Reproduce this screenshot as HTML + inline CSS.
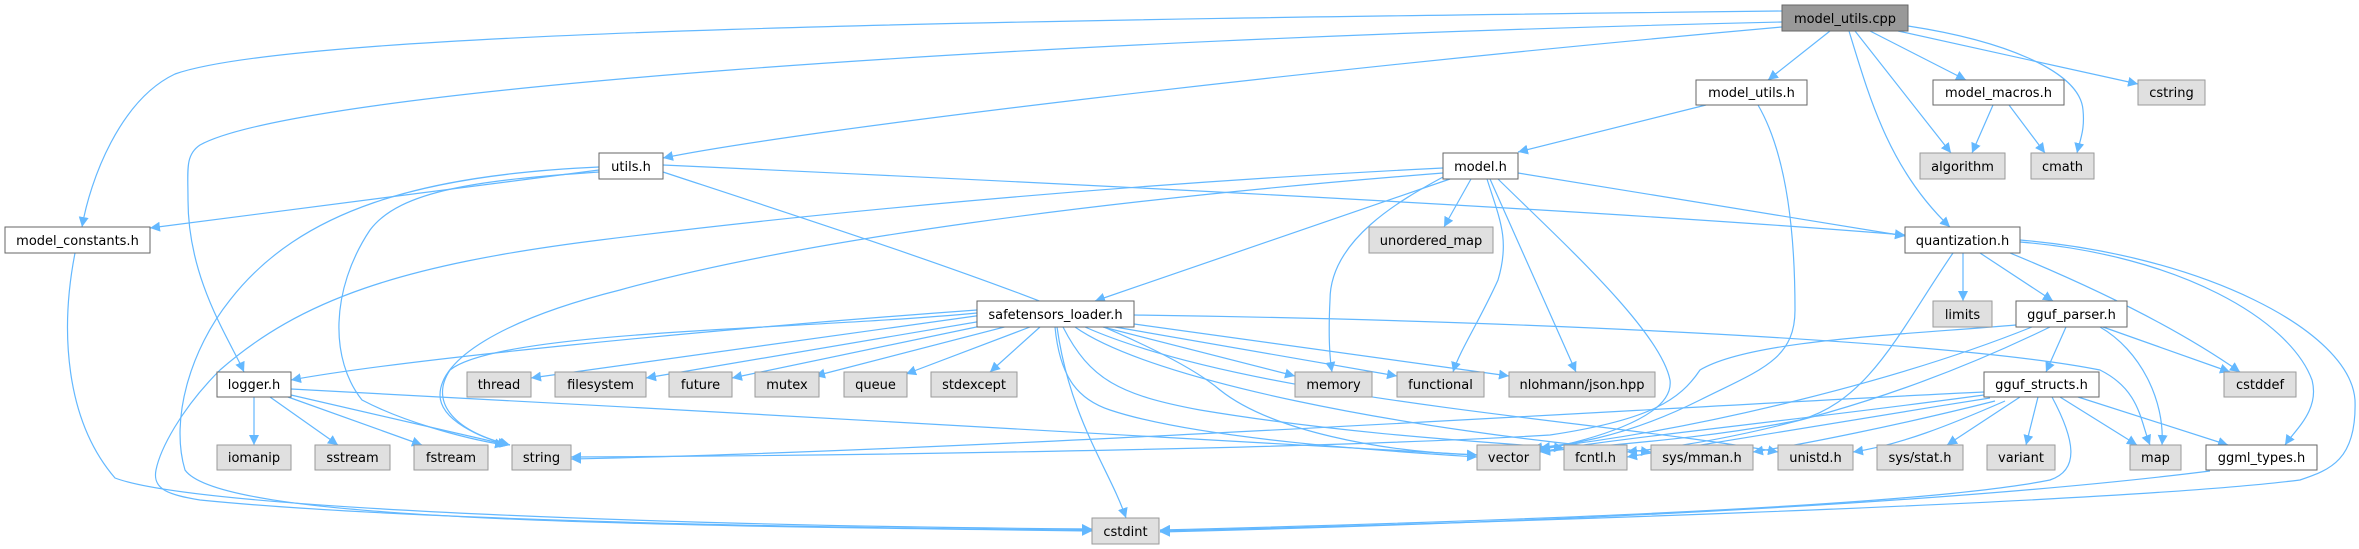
<!DOCTYPE html>
<html><head><meta charset="utf-8"><style>
html,body{margin:0;padding:0;background:#fff;}
svg{display:block;}
text{font-family:"DejaVu Sans","Liberation Sans",sans-serif;font-size:13px;fill:#000;}
.e{fill:none;stroke:#63b8ff;stroke-width:1.2;marker-end:url(#a);}
.g{fill:#e0e0e0;stroke:#999;}
.w{fill:#fff;stroke:#666;}
</style></head><body>
<svg width="2359" height="549" viewBox="0 0 2359 549" xmlns="http://www.w3.org/2000/svg">
<defs><marker id="a" viewBox="0 0 10 10" refX="10" refY="5" markerWidth="10" markerHeight="10" markerUnits="userSpaceOnUse" orient="auto"><path d="M0,0 L10,5 L0,10 z" fill="#63b8ff"/></marker></defs>
<g>
<path class="e" d="M1782,11 C1000,20 300,30 175,74 C120,100 90,180 82,227"/>
<path class="e" d="M1782,22 C1000,40 300,90 200,145 C185,155 188,170 188,200 C188,280 230,340 244,372"/>
<path class="e" d="M1782,27 C1300,70 800,130 663,158"/>
<path class="e" d="M1830,31 L1768,80"/>
<path class="e" d="M1849,31 C1870,100 1890,170 1950,227"/>
<path class="e" d="M1855,31 L1951,153"/>
<path class="e" d="M1870,31 L1966,80"/>
<path class="e" d="M1898,31 L2138,84"/>
<path class="e" d="M1908,26 C2000,40 2080,70 2083,110 C2085,130 2080,140 2077,153"/>
<path class="e" d="M1706,105 L1518,152"/>
<path class="e" d="M1758,105 C1790,160 1795,250 1795,310 C1795,360 1760,370 1700,400 C1620,440 1560,446 1532,448"/>
<path class="e" d="M1993,105 L1972,153"/>
<path class="e" d="M2009,105 L2045,153"/>
<path class="e" d="M599,170 L150,228"/>
<path class="e" d="M663,165 C1100,185 1600,210 1905,235"/>
<path class="e" d="M599,172 C480,180 400,190 370,230 C330,290 330,360 362,400 C400,420 460,438 505,445"/>
<path class="e" d="M599,167 C420,175 300,210 230,300 C190,350 170,420 185,470 C220,520 600,525 1092,531"/>
<path class="e" d="M663,172 C900,250 1150,330 1220,390 C1270,430 1380,452 1477,455"/>
<path class="e" d="M1443,168 C1100,185 800,215 600,240 C400,265 300,300 220,370 C180,410 160,450 156,470 C152,490 170,495 200,500 C400,520 800,528 1092,530"/>
<path class="e" d="M1443,173 C1100,200 800,240 620,290 C500,320 440,360 440,395 C440,420 480,438 510,445"/>
<path class="e" d="M1450,179 L1095,301"/>
<path class="e" d="M1471,179 L1444,227"/>
<path class="e" d="M1445,176 C1400,200 1330,240 1330,300 C1328,340 1330,360 1332,372"/>
<path class="e" d="M1487,179 C1500,220 1510,240 1498,280 C1480,320 1460,350 1453,372"/>
<path class="e" d="M1490,179 L1576,372"/>
<path class="e" d="M1498,179 C1560,240 1660,330 1670,380 C1675,420 1580,442 1540,450"/>
<path class="e" d="M1518,173 L1905,236"/>
<path class="e" d="M1963,253 L1963,301"/>
<path class="e" d="M1980,253 L2053,301"/>
<path class="e" d="M2010,253 C2100,290 2180,330 2240,372"/>
<path class="e" d="M2020,242 C2180,255 2290,320 2312,380 C2320,410 2295,430 2285,445"/>
<path class="e" d="M2020,240 C2200,255 2350,330 2355,400 C2357,460 2330,470 2300,480 C2100,505 1400,525 1160,531"/>
<path class="e" d="M1953,253 C1900,330 1870,400 1800,420 C1700,440 1600,445 1540,452"/>
<path class="e" d="M977,310 C700,330 400,360 291,380"/>
<path class="e" d="M990,314 L531,378"/>
<path class="e" d="M1000,318 L646,378"/>
<path class="e" d="M1010,320 L732,378"/>
<path class="e" d="M1020,323 L815,376"/>
<path class="e" d="M1030,327 L906,374"/>
<path class="e" d="M1040,327 L990,372"/>
<path class="e" d="M1103,327 L1295,376"/>
<path class="e" d="M1115,327 L1397,376"/>
<path class="e" d="M1134,324 L1509,376"/>
<path class="e" d="M1134,315 C1500,320 1950,340 2100,370 C2140,390 2140,420 2150,445"/>
<path class="e" d="M977,313 C800,330 500,330 450,370 C430,400 450,430 510,445"/>
<path class="e" d="M1055,327 C1060,380 1080,400 1110,410 C1200,440 1400,452 1477,457"/>
<path class="e" d="M1063,327 C1090,380 1120,395 1200,410 C1350,435 1500,443 1564,448"/>
<path class="e" d="M1075,327 C1150,380 1400,430 1651,452"/>
<path class="e" d="M1085,327 C1250,400 1600,420 1778,452"/>
<path class="e" d="M1057,327 C1070,420 1110,470 1126,518"/>
<path class="e" d="M2066,327 L2046,372"/>
<path class="e" d="M2103,327 L2230,372"/>
<path class="e" d="M2100,327 C2140,350 2165,400 2162,445"/>
<path class="e" d="M2016,325 C1900,335 1750,340 1700,370 C1680,400 1650,420 1550,435 C1300,450 800,456 571,457"/>
<path class="e" d="M2032,327 C1900,380 1700,430 1540,448"/>
<path class="e" d="M2050,327 C1900,400 1750,440 1627,452"/>
<path class="e" d="M1984,392 C1700,405 1000,450 571,459"/>
<path class="e" d="M1984,395 C1800,420 1600,440 1540,452"/>
<path class="e" d="M1990,398 C1850,420 1700,445 1627,457"/>
<path class="e" d="M1995,401 C1900,425 1800,445 1753,452"/>
<path class="e" d="M2005,401 C1950,425 1900,445 1853,452"/>
<path class="e" d="M2020,397 L1947,445"/>
<path class="e" d="M2038,397 L2026,445"/>
<path class="e" d="M2060,397 L2137,445"/>
<path class="e" d="M2078,397 L2228,445"/>
<path class="e" d="M2052,397 C2075,440 2080,470 2050,480 C1900,510 1400,524 1160,530"/>
<path class="e" d="M254,397 L254,445"/>
<path class="e" d="M270,397 L338,445"/>
<path class="e" d="M288,397 L422,445"/>
<path class="e" d="M291,395 L508,445"/>
<path class="e" d="M291,389 C700,410 1200,440 1477,455"/>
<path class="e" d="M75,253 C60,330 65,420 115,478 C200,510 700,526 1092,529"/>
<path class="e" d="M2210,471 C1900,510 1400,526 1160,532"/>
</g>
<g>
<rect x="1782" y="5" width="126" height="26" fill="#999" stroke="#666"/><text x="1845" y="23" text-anchor="middle">model_utils.cpp</text>
<rect class="w" x="1696" y="80" width="111" height="25"/><text x="1751.5" y="97" text-anchor="middle">model_utils.h</text>
<rect class="w" x="1933" y="80" width="131" height="25"/><text x="1998.5" y="97" text-anchor="middle">model_macros.h</text>
<rect class="g" x="2138" y="80" width="67" height="25"/><text x="2171.5" y="97" text-anchor="middle">cstring</text>
<rect class="g" x="1920" y="153" width="85" height="26"/><text x="1962.5" y="171" text-anchor="middle">algorithm</text>
<rect class="g" x="2031" y="153" width="63" height="26"/><text x="2062.5" y="171" text-anchor="middle">cmath</text>
<rect class="w" x="1905" y="227" width="115" height="26"/><text x="1962.5" y="245" text-anchor="middle">quantization.h</text>
<rect class="g" x="1933" y="301" width="59" height="26"/><text x="1962.5" y="319" text-anchor="middle">limits</text>
<rect class="w" x="2016" y="301" width="111" height="26"/><text x="2071.5" y="319" text-anchor="middle">gguf_parser.h</text>
<rect class="g" x="2224" y="372" width="72" height="25"/><text x="2260" y="389" text-anchor="middle">cstddef</text>
<rect class="w" x="1984" y="372" width="115" height="25"/><text x="2041.5" y="389" text-anchor="middle">gguf_structs.h</text>
<rect class="g" x="1564" y="445" width="63" height="25"/><text x="1595.5" y="462" text-anchor="middle">fcntl.h</text>
<rect class="g" x="1651" y="445" width="102" height="25"/><text x="1702" y="462" text-anchor="middle">sys/mman.h</text>
<rect class="g" x="1778" y="445" width="75" height="25"/><text x="1815.5" y="462" text-anchor="middle">unistd.h</text>
<rect class="g" x="1877" y="445" width="86" height="25"/><text x="1920" y="462" text-anchor="middle">sys/stat.h</text>
<rect class="g" x="1987" y="445" width="68" height="25"/><text x="2021" y="462" text-anchor="middle">variant</text>
<rect class="g" x="2130" y="445" width="51" height="25"/><text x="2155.5" y="462" text-anchor="middle">map</text>
<rect class="w" x="2206" y="445" width="111" height="25"/><text x="2261.5" y="462" text-anchor="middle">ggml_types.h</text>
<rect class="w" x="1443" y="153" width="75" height="26"/><text x="1480.5" y="171" text-anchor="middle">model.h</text>
<rect class="g" x="1369" y="227" width="124" height="26"/><text x="1431" y="245" text-anchor="middle">unordered_map</text>
<rect class="w" x="977" y="301" width="157" height="26"/><text x="1055.5" y="319" text-anchor="middle">safetensors_loader.h</text>
<rect class="g" x="844" y="372" width="63" height="25"/><text x="875.5" y="389" text-anchor="middle">queue</text>
<rect class="g" x="931" y="372" width="86" height="25"/><text x="974" y="389" text-anchor="middle">stdexcept</text>
<rect class="g" x="1295" y="372" width="77" height="25"/><text x="1333.5" y="389" text-anchor="middle">memory</text>
<rect class="g" x="1397" y="372" width="87" height="25"/><text x="1440.5" y="389" text-anchor="middle">functional</text>
<rect class="g" x="1509" y="372" width="146" height="25"/><text x="1582" y="389" text-anchor="middle">nlohmann/json.hpp</text>
<rect class="g" x="1477" y="445" width="63" height="25"/><text x="1508.5" y="462" text-anchor="middle">vector</text>
<rect class="g" x="1092" y="518" width="67" height="26"/><text x="1125.5" y="536" text-anchor="middle">cstdint</text>
<rect class="w" x="599" y="153" width="64" height="26"/><text x="631" y="171" text-anchor="middle">utils.h</text>
<rect class="w" x="5" y="227" width="145" height="26"/><text x="77.5" y="245" text-anchor="middle">model_constants.h</text>
<rect class="w" x="217" y="372" width="74" height="25"/><text x="254" y="389" text-anchor="middle">logger.h</text>
<rect class="g" x="467" y="372" width="64" height="25"/><text x="499" y="389" text-anchor="middle">thread</text>
<rect class="g" x="555" y="372" width="91" height="25"/><text x="600.5" y="389" text-anchor="middle">filesystem</text>
<rect class="g" x="669" y="372" width="63" height="25"/><text x="700.5" y="389" text-anchor="middle">future</text>
<rect class="g" x="755" y="372" width="64" height="25"/><text x="787" y="389" text-anchor="middle">mutex</text>
<rect class="g" x="217" y="445" width="74" height="25"/><text x="254" y="462" text-anchor="middle">iomanip</text>
<rect class="g" x="315" y="445" width="75" height="25"/><text x="352.5" y="462" text-anchor="middle">sstream</text>
<rect class="g" x="414" y="445" width="74" height="25"/><text x="451" y="462" text-anchor="middle">fstream</text>
<rect class="g" x="512" y="445" width="59" height="25"/><text x="541.5" y="462" text-anchor="middle">string</text>
</g>
</svg>
</body></html>
